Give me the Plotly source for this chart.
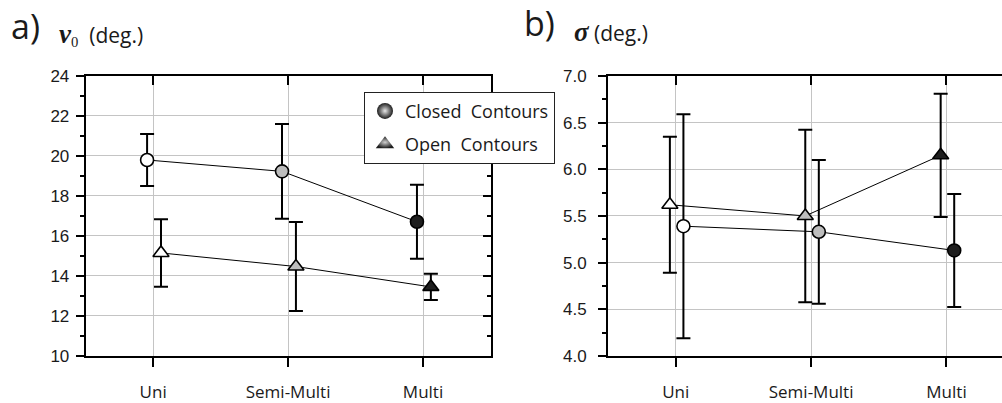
import plotly.graph_objects as go

# Categories shared by both panels
categories = ["Uni", "Semi-Multi", "Multi"]

# Panel a: v0 (deg.)
v0_closed = [19.8, 19.23, 16.71]
v0_closed_err = [1.3, 2.37, 1.85]
v0_open = [15.15, 14.47, 13.45]
v0_open_err = [1.69, 2.23, 0.66]

# Panel b: sigma (deg.)
sigma_closed = [5.39, 5.33, 5.13]
sigma_closed_err = [1.2, 0.77, 0.605]
sigma_open = [5.62, 5.5, 6.15]
sigma_open_err = [0.73, 0.925, 0.66]

# Marker fill per category
fills = ["white", "#bdbdbd", "#1e1e1e"]

W, H = 1002, 403
idx = list(range(len(categories)))

fig = go.Figure()


def series(vals, errs, offset, symbol, size, xa, ya):
    return go.Scatter(
        x=[i + offset for i in idx], y=vals,
        mode="lines+markers",
        line=dict(color="black", width=1),
        marker=dict(symbol=symbol, size=size, color=fills,
                    line=dict(color="black", width=1.6)),
        error_y=dict(type="data", array=errs, visible=True,
                     color="black", thickness=2, width=7),
        xaxis=xa, yaxis=ya, showlegend=False, hoverinfo="skip",
    )


# Panel a
fig.add_trace(series(v0_closed, v0_closed_err, -0.045, "circle", 13, "x", "y"))
fig.add_trace(series(v0_open, v0_open_err, 0.058, "triangle-up", 14, "x", "y"))
# Panel b
fig.add_trace(series(sigma_open, sigma_open_err, -0.043, "triangle-up", 14, "x2", "y2"))
fig.add_trace(series(sigma_closed, sigma_closed_err, 0.057, "circle", 13, "x2", "y2"))

# Legend entries with shaded symbols (dark rim, light centre)
fig.add_trace(go.Scatter(
    x=[None], y=[None], mode="markers", name="Closed\u00a0 Contours",
    legendgroup="closed",
    marker=dict(symbol="circle", size=16, color="#1c1c1c",
                gradient=dict(type="radial", color="#e8e8e8"),
                line=dict(width=0)),
    xaxis="x", yaxis="y"))
fig.add_trace(go.Scatter(
    x=[None], y=[None], mode="markers", name="Open\u00a0 Contours",
    legendgroup="open",
    marker=dict(symbol="triangle-up", size=16, color="#1c1c1c",
                gradient=dict(type="radial", color="#d0d0d0"),
                line=dict(width=0)),
    xaxis="x", yaxis="y"))

# Empty traces that activate the mirrored frame axes
for xa, ya in [("x3", "y"), ("x", "y3"), ("x4", "y2")]:
    fig.add_trace(go.Scatter(x=[None], y=[None], xaxis=xa, yaxis=ya,
                             showlegend=False, hoverinfo="skip"))

ydom = [(H - 365) / H, (H - 70.5) / H]
xdom_a = [85.7 / W, 490.5 / W]
xdom_b = [608 / W, 1.0]

grid = "#c4c4c4"
xfont = dict(family="Open Sans", size=17, color="#1a1a1a")
yfont = dict(family="Liberation Sans", size=17, color="#1a1a1a")

common_x = dict(tickmode="array", tickvals=idx, ticktext=categories,
                ticks="outside", ticklen=9, tickwidth=2, tickcolor="black",
                showline=True, linewidth=2, linecolor="black",
                showgrid=True, gridcolor=grid, gridwidth=1, zeroline=False,
                tickfont=xfont, ticklabelstandoff=11, fixedrange=True)
top_x = dict(tickmode="array", tickvals=idx, ticks="inside", ticklen=9,
             tickwidth=2, tickcolor="black", showticklabels=False,
             showline=True, linewidth=2, linecolor="black", showgrid=False,
             zeroline=False, side="top", fixedrange=True)
common_y = dict(ticks="outside", ticklen=8, tickwidth=2, tickcolor="black",
                showline=True, linewidth=2, linecolor="black",
                showgrid=True, gridcolor=grid, gridwidth=1, zeroline=False,
                tickfont=yfont, fixedrange=True)

fig.update_layout(
    width=W, height=H, autosize=False,
    margin=dict(l=0, r=0, t=0, b=0),
    paper_bgcolor="white", plot_bgcolor="white",
    xaxis=dict(domain=xdom_a, range=[-0.5, 2.5], anchor="y", **common_x),
    yaxis=dict(domain=ydom, range=[10, 24], tick0=10, dtick=2, anchor="x",
               ticklabelstandoff=3,
               minor=dict(dtick=1, ticks="outside", ticklen=4, tickwidth=2,
                          tickcolor="black", showgrid=False),
               **common_y),
    xaxis2=dict(domain=xdom_b, range=[-0.5, 2.41], anchor="y2", **common_x),
    yaxis2=dict(domain=ydom, range=[4, 7], tick0=4, dtick=0.5,
                tickformat=".1f", anchor="x2", ticklabelstandoff=8,
                minor=dict(dtick=0.25, ticks="outside", ticklen=4,
                           tickwidth=2, tickcolor="black", showgrid=False),
                **common_y),
    xaxis3=dict(overlaying="x", anchor="y", range=[-0.5, 2.5], **top_x),
    yaxis3=dict(overlaying="y", anchor="x", side="right", range=[10, 24],
                tick0=10, dtick=2, ticks="inside", ticklen=8, tickwidth=2,
                tickcolor="black", showticklabels=False, showline=True,
                linewidth=2, linecolor="black", showgrid=False,
                zeroline=False, fixedrange=True,
                minor=dict(dtick=1, ticks="inside", ticklen=4, tickwidth=2,
                           tickcolor="black", showgrid=False)),
    xaxis4=dict(overlaying="x2", anchor="y2", range=[-0.5, 2.41], **top_x),
    legend=dict(x=364 / W, y=(H - 87) / H, xanchor="left", yanchor="top",
                bgcolor="white", bordercolor="#222222", borderwidth=1,
                font=dict(family="Open Sans", size=18, color="#1a1a1a"),
                traceorder="grouped", tracegroupgap=7, itemsizing="trace"),
    showlegend=True,
)

serif = "font-family:'Liberation Serif';"
labels = [
    (9, 18, "a)", 34),
    (522, 15, "b)", 34),
    (57, 27, f"<b><i><span style=\"{serif}font-size:27px\">v</span></i></b>"
             f"<sub><span style=\"{serif}\">0</span></sub>\u00a0 (deg.)", 21),
    (572, 24, f"<b><i><span style=\"{serif}font-size:27px\">σ</span></i></b>\u00a0(deg.)", 21),
]
for px, py, txt, size in labels:
    fig.add_annotation(x=px / W, y=1 - py / H, xref="paper", yref="paper",
                       xanchor="left", yanchor="middle", showarrow=False,
                       text=txt, font=dict(family="Open Sans", size=size,
                                           color="#1a1a1a"))

fig.write_html("out.html")
